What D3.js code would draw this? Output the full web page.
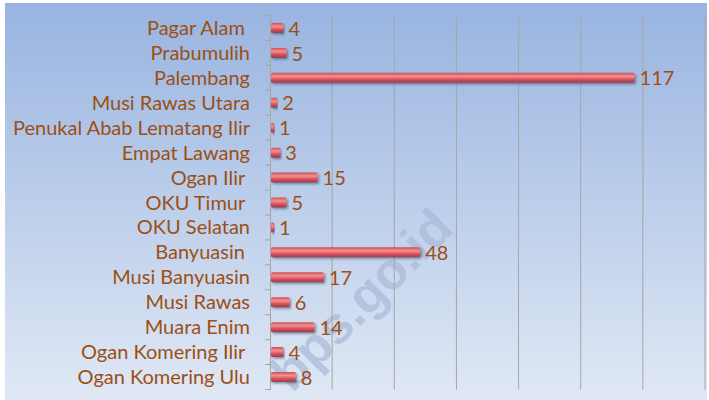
<!DOCTYPE html>
<html><head><meta charset="utf-8">
<script src="https://cdn.jsdelivr.net/npm/d3@7"></script>
<style>body{margin:0;background:#fff}svg{display:block}</style>
</head><body>
<svg id="c" width="709" height="400"></svg>
<script>
const categories = ["Pagar Alam ","Prabumulih","Palembang","Musi Rawas Utara","Penukal Abab Lematang Ilir","Empat Lawang","Ogan Ilir ","OKU Timur ","OKU Selatan","Banyuasin ","Musi Banyuasin","Musi Rawas","Muara Enim","Ogan Komering Ilir ","Ogan Komering Ulu"];
const values = [4,5,117,2,1,3,15,5,1,48,17,6,14,4,8];
const xTicks = [0,20,40,60,80,100,120,140];

const svg = d3.select("#c");
const defs = svg.append("defs");
const bg = defs.append("linearGradient").attr("id","bg").attr("x1",0).attr("y1",0).attr("x2",0).attr("y2",1);
bg.append("stop").attr("offset","0%").attr("stop-color","#98b4e0");
bg.append("stop").attr("offset","100%").attr("stop-color","#e0e8f5");
const bar = defs.append("linearGradient").attr("id","bar").attr("x1",0).attr("y1",0).attr("x2",0).attr("y2",1);
bar.append("stop").attr("offset","0%").attr("stop-color","#d0505a");
bar.append("stop").attr("offset","35%").attr("stop-color","#f29090");
bar.append("stop").attr("offset","70%").attr("stop-color","#d84852");
bar.append("stop").attr("offset","100%").attr("stop-color","#8a4458");
const f = defs.append("filter").attr("id","sh").attr("x","-5%").attr("y","-50%").attr("width","115%").attr("height","250%");
f.append("feDropShadow").attr("dx",1.5).attr("dy",1.5).attr("stdDeviation",1.2).attr("flood-color","#33405a").attr("flood-opacity",0.55);

svg.append("rect").attr("x",5).attr("y",3).attr("width",702).attr("height",397).attr("fill","url(#bg)");

// watermark
svg.append("text").attr("transform","translate(374,312) rotate(-45)")
  .attr("text-anchor","middle").attr("font-family","Arial, sans-serif").attr("font-weight","bold")
  .attr("font-size",52).attr("fill","#a9b9d8").attr("opacity",0.7).text("bps.go.id");

const x = d3.scaleLinear().domain([0,140]).range([270,705]);
const y = d3.scaleBand().domain(categories).range([15.5,389.5]);

// grid
svg.append("g").selectAll("line").data(xTicks.slice(1)).join("line")
  .attr("x1",d=>x(d)).attr("x2",d=>x(d)).attr("y1",y.range()[0]).attr("y2",y.range()[1])
  .attr("stroke","#a6a6a6").attr("stroke-width",1);

// axis
const ax = svg.append("g").attr("transform","translate(270,0)")
  .call(d3.axisLeft(y).tickSize(0).tickFormat(""));
ax.select(".domain").attr("stroke","#a6a6a6");
const bounds = d3.range(categories.length+1).map(i=>y.range()[0]+i*y.step());
svg.append("g").selectAll("line").data(bounds).join("line")
  .attr("x1",265).attr("x2",270).attr("y1",d=>d).attr("y2",d=>d).attr("stroke","#a6a6a6");

// labels
svg.append("g").selectAll("text").data(categories).join("text")
  .attr("x",250).attr("y",d=>y(d)+y.bandwidth()/2).attr("dy","0.35em")
  .attr("text-anchor","end").attr("font-family","Lato, 'Open Sans', sans-serif")
  .attr("font-size",20).attr("fill","#9c4f14").style("white-space","pre").text(d=>d);

const bh = 10;
svg.append("g").selectAll("rect").data(values).join("rect")
  .attr("x",x(0)+1).attr("y",(d,i)=>y(categories[i])+y.bandwidth()/2-bh/2)
  .attr("width",d=>x(d)-x(0)).attr("height",bh).attr("rx",1.5)
  .attr("fill","url(#bar)").attr("filter","url(#sh)");

svg.append("g").selectAll("text").data(values).join("text")
  .attr("x",d=>x(d)+6).attr("y",(d,i)=>y(categories[i])+y.bandwidth()/2).attr("dy","0.38em")
  .attr("font-family","Lato, 'Open Sans', sans-serif").attr("font-size",20).attr("fill","#9c4f14")
  .text(d=>d);
</script>
</body></html>
